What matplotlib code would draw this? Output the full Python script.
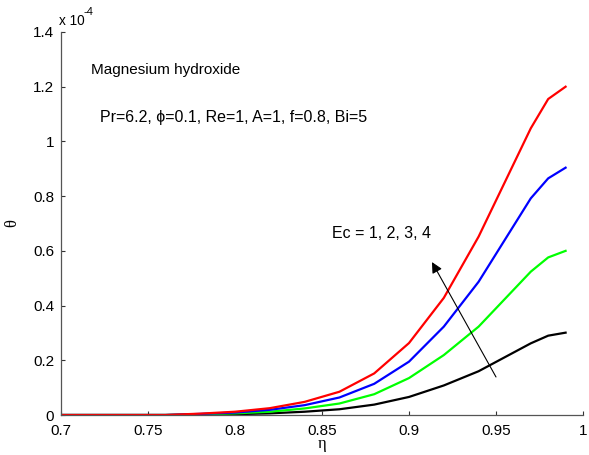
import numpy as np
import matplotlib.pyplot as plt
from matplotlib.ticker import FormatStrFormatter

plt.rcParams['font.family'] = ['Liberation Sans', 'DejaVu Sans']

# similarity variable and temperature profiles (theta in units of 1e-4)
eta = [0.70, 0.75, 0.76, 0.78, 0.80, 0.82, 0.84, 0.86, 0.88, 0.90, 0.92, 0.94, 0.97, 0.98, 0.99]
theta_ec4 = [0, 0, 0, 0.005, 0.012, 0.025, 0.048, 0.085, 0.152, 0.263, 0.428, 0.652, 1.048, 1.155, 1.200]
theta_ec3 = [0, 0, 0, 0.004, 0.009, 0.019, 0.036, 0.064, 0.114, 0.195, 0.323, 0.487, 0.792, 0.865, 0.904]
theta_ec2 = [0, 0, 0, 0.003, 0.006, 0.012, 0.024, 0.042, 0.076, 0.135, 0.219, 0.323, 0.524, 0.576, 0.600]
theta_ec1 = [0, 0, 0, 0.001, 0.003, 0.006, 0.012, 0.021, 0.038, 0.066, 0.108, 0.160, 0.262, 0.290, 0.301]

xticks = [0.7, 0.75, 0.8, 0.85, 0.9, 0.95, 1.0]
yticks = [0, 0.2, 0.4, 0.6, 0.8, 1.0, 1.2, 1.4]

fig = plt.figure(figsize=(5.89, 4.55), dpi=100)
ax = fig.add_axes([0.1036, 0.0879, 0.8862, 0.8418])

ax.plot(eta, theta_ec1, color='black', lw=1.6)
ax.plot(eta, theta_ec2, color='#00ff00', lw=1.6)
ax.plot(eta, theta_ec3, color='blue', lw=1.6)
ax.plot(eta, theta_ec4, color='red', lw=1.6)

ax.set_xlim(0.7, 1.0)
ax.set_ylim(0, 1.4)
ax.set_xticks(xticks)
ax.set_yticks(yticks)
ax.xaxis.set_major_formatter(FormatStrFormatter('%g'))
ax.yaxis.set_major_formatter(FormatStrFormatter('%g'))
ax.tick_params(direction='in', length=3, width=0.8, labelsize=11, colors='#333333',
               labelcolor='black')
ax.tick_params(axis='x', pad=6.5)
ax.tick_params(axis='y', pad=5)

for side in ['top', 'right']:
    ax.spines[side].set_visible(False)
for side in ['left', 'bottom']:
    ax.spines[side].set_color('#555555')
    ax.spines[side].set_linewidth(0.9)

ax.set_xlabel('η', family='Liberation Serif', fontsize=12)
ax.set_ylabel('θ', family='Liberation Serif', fontsize=12)
ax.xaxis.set_label_coords(0.5, -0.056)
ax.yaxis.set_label_coords(-0.078, 0.5)

# scale factor above the y axis
fig.text(0.1, 0.945, 'x 10', fontsize=9.8, va='baseline')
fig.text(0.141, 0.967, '-4', fontsize=8, va='baseline')

ax.text(0.717, 1.261, 'Magnesium hydroxide', fontsize=11, va='center')
ax.text(0.7224, 1.089, 'Pr=6.2, ϕ=0.1, Re=1, A=1, f=0.8, Bi=5', fontsize=11.5, va='center')
ax.text(0.8557, 0.665, 'Ec = 1, 2, 3, 4', fontsize=11.5, va='center')

ax.annotate('', xy=(0.9132, 0.559), xytext=(0.95, 0.139),
            arrowprops=dict(arrowstyle='-|>', color='black', lw=0.8,
                            mutation_scale=16, shrinkA=0, shrinkB=0))

fig.savefig('out.png', dpi=100)
